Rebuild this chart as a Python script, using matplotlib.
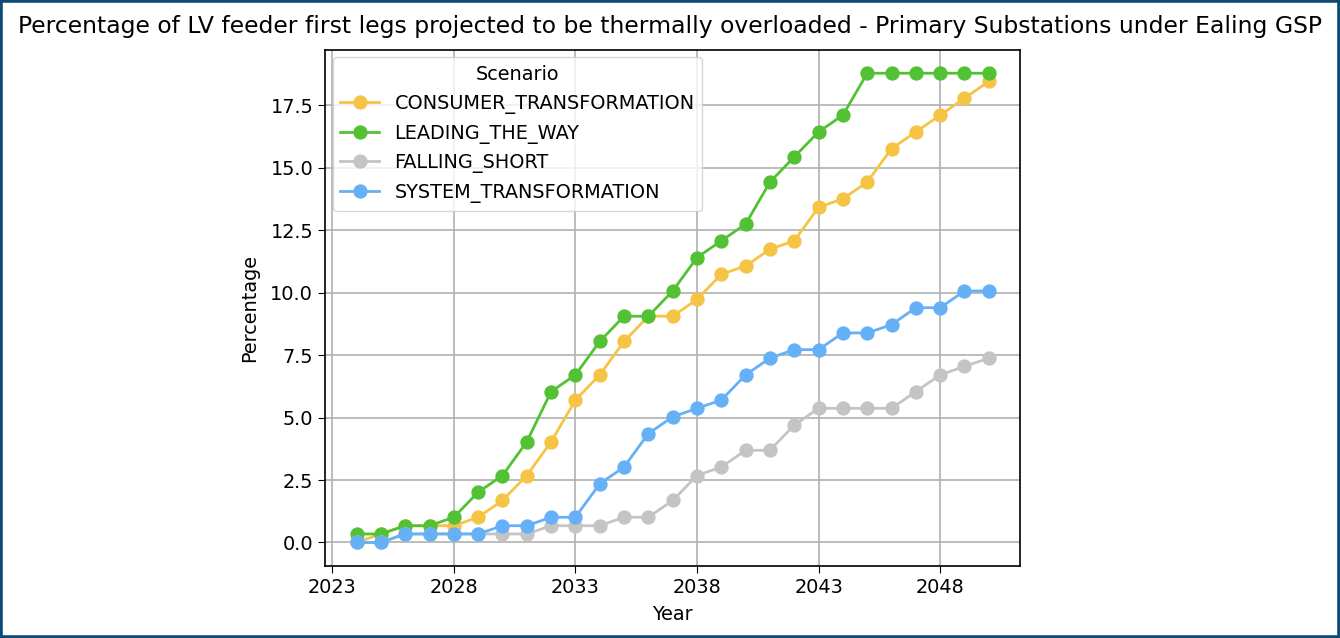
import matplotlib
matplotlib.use("Agg")
import matplotlib.pyplot as plt
from matplotlib.patches import Rectangle

years = list(range(2024, 2051))

consumer_transformation = [0.00, 0.34, 0.67, 0.67, 0.67, 1.01, 1.68, 2.68, 4.03, 5.70,
                           6.71, 8.05, 9.06, 9.06, 9.73, 10.74, 11.07, 11.74, 12.08, 13.42,
                           13.76, 14.43, 15.77, 16.44, 17.11, 17.79, 18.46]
leading_the_way = [0.34, 0.34, 0.67, 0.67, 1.01, 2.01, 2.68, 4.03, 6.04, 6.71,
                   8.05, 9.06, 9.06, 10.07, 11.41, 12.08, 12.75, 14.43, 15.44, 16.44,
                   17.11, 18.79, 18.79, 18.79, 18.79, 18.79, 18.79]
falling_short = [0.00, 0.00, 0.34, 0.34, 0.34, 0.34, 0.34, 0.34, 0.67, 0.67,
                 0.67, 1.01, 1.01, 1.68, 2.68, 3.02, 3.69, 3.69, 4.70, 5.37,
                 5.37, 5.37, 5.37, 6.04, 6.71, 7.05, 7.38]
system_transformation = [0.00, 0.00, 0.34, 0.34, 0.34, 0.34, 0.67, 0.67, 1.01, 1.01,
                         2.35, 3.02, 4.36, 5.03, 5.37, 5.70, 6.71, 7.38, 7.72, 7.72,
                         8.39, 8.39, 8.72, 9.40, 9.40, 10.07, 10.07]

scenarios = ["CONSUMER_TRANSFORMATION", "LEADING_THE_WAY", "FALLING_SHORT", "SYSTEM_TRANSFORMATION"]
series = [consumer_transformation, leading_the_way, falling_short, system_transformation]
colours = ["#f6c445", "#52c234", "#c4c4c4", "#66b0f7"]
xtick_years = list(range(2023, 2051, 5))

fs = 13.9
fig = plt.figure(figsize=(13.4, 6.38), dpi=100)
ax = fig.add_axes([0.2425, 0.113, 0.519, 0.809])

for name, vals, c in zip(scenarios, series, colours):
    ax.plot(years, vals, marker="o", color=c, label=name, markersize=9.3, linewidth=2)

ax.set_xticks(xtick_years)
ax.tick_params(labelsize=fs, length=5)
ax.grid(True, color="#b0b0b0", linewidth=1.2)
ax.set_xlabel("Year", fontsize=fs, labelpad=6)
ax.set_ylabel("Percentage", fontsize=fs, labelpad=8)
for sp in ax.spines.values():
    sp.set_linewidth(1.2)

leg = ax.legend(title="Scenario", fontsize=fs, title_fontsize=fs, loc="upper left",
                borderaxespad=0.4)

fig.suptitle("Percentage of LV feeder first legs projected to be thermally overloaded - Primary Substations under Ealing GSP",
             fontsize=16.9, x=0.5, y=0.977)

# frame round the picture
fig.patches.append(Rectangle((0, 0), 1, 1, transform=fig.transFigure, fill=False,
                             edgecolor="#0d4a73", linewidth=4))

fig.savefig("out.png", dpi=100)
